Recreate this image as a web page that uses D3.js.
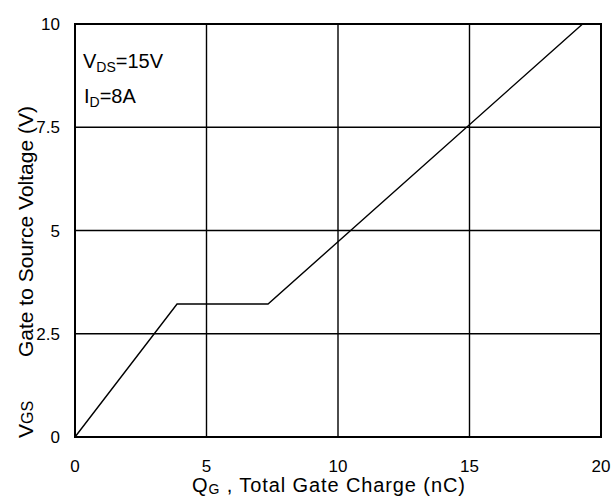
<!DOCTYPE html>
<html>
<head>
<meta charset="utf-8">
<script src="https://cdn.jsdelivr.net/npm/d3@7"></script>
<style>
  body { margin: 0; background: #fff; }
  text { font-family: Arial, "Liberation Sans", sans-serif; fill: #000; }
</style>
</head>
<body>
<script>
// gate charge curve
var qg = [0, 3.88, 7.34, 19.3];
var vgs = [0, 3.22, 3.22, 10];
var xTicks = [0, 5, 10, 15, 20];
var yTicks = [0, 2.5, 5, 7.5, 10];

var margin = {top: 24, right: 13, bottom: 60, left: 75};
var width = 614 - margin.left - margin.right;
var height = 497 - margin.top - margin.bottom;

var x = d3.scaleLinear().domain([0, 20]).range([0, width]);
var y = d3.scaleLinear().domain([0, 10]).range([height, 0]);

var svg = d3.select("body").append("svg")
    .attr("width", 614)
    .attr("height", 497);

var g = svg.append("g")
    .attr("transform", "translate(" + margin.left + "," + margin.top + ")");

// grid lines
g.selectAll(".vgrid").data(xTicks).enter().append("line")
    .attr("x1", d => x(d)).attr("x2", d => x(d))
    .attr("y1", 0).attr("y2", height)
    .attr("stroke", "#000").attr("stroke-width", 1.4);

g.selectAll(".hgrid").data(yTicks).enter().append("line")
    .attr("x1", 0).attr("x2", width)
    .attr("y1", d => y(d)).attr("y2", d => y(d))
    .attr("stroke", "#000").attr("stroke-width", 1.4);

// frame
g.append("rect")
    .attr("width", width).attr("height", height)
    .attr("fill", "none").attr("stroke", "#000").attr("stroke-width", 2);

// tick labels
g.selectAll(".xl").data(xTicks).enter().append("text")
    .attr("x", d => x(d)).attr("y", height + 35)
    .attr("text-anchor", "middle")
    .style("font-size", "17px")
    .text(d => d);

g.selectAll(".yl").data(yTicks).enter().append("text")
    .attr("x", -15).attr("y", d => y(d) + 6)
    .attr("text-anchor", "end")
    .style("font-size", "17px")
    .text(d => d);

// curve
var line = d3.line().x(d => x(d[0])).y(d => y(d[1]));
g.append("path")
    .datum(d3.zip(qg, vgs))
    .attr("d", line)
    .attr("fill", "none").attr("stroke", "#000").attr("stroke-width", 1.4);

// annotations
var t1 = g.append("text").attr("x", 8).attr("y", 44).style("font-size", "20px");
t1.append("tspan").text("V");
t1.append("tspan").attr("dy", 4).style("font-size", "14px").text("DS");
t1.append("tspan").attr("dy", -4).text("=15V");

var t2 = g.append("text").attr("x", 9).attr("y", 79).style("font-size", "20px");
t2.append("tspan").text("I");
t2.append("tspan").attr("dy", 4).style("font-size", "14px").text("D");
t2.append("tspan").attr("dy", -4).text("=8A");

// axis titles
var xt = svg.append("text")
    .attr("x", 192).attr("y", 492)
    .style("font-size", "20px")
    .style("letter-spacing", "0.9px");
xt.append("tspan").text("Q");
xt.append("tspan").attr("dy", 2).style("font-size", "14px").text("G");
xt.append("tspan").attr("dy", -2).text(" , Total Gate Charge (nC)");

var yt = svg.append("text")
    .attr("transform", "translate(33,438) rotate(-90)")
    .style("font-size", "21px");
yt.append("tspan").text("V");
yt.append("tspan").style("font-size", "16px").text("GS");
yt.append("tspan").attr("x", 81).text("Gate to Source Voltage (V)");
</script>
</body>
</html>
